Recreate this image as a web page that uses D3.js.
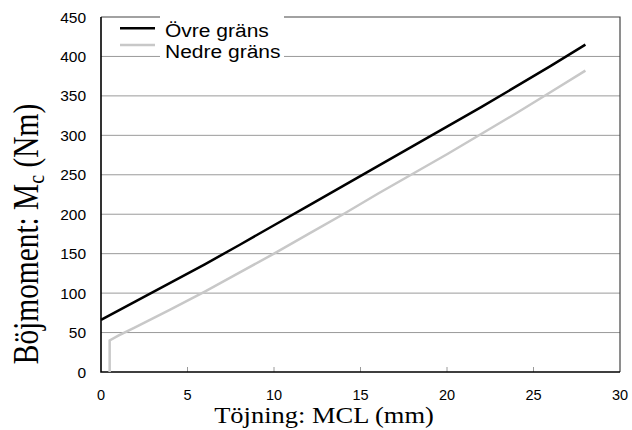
<!DOCTYPE html>
<html>
<head>
<meta charset="utf-8">
<script src="https://cdn.jsdelivr.net/npm/d3@7"></script>
<style>
  html, body { margin: 0; padding: 0; background: #fff; }
  svg { display: block; }
</style>
</head>
<body>
<svg id="chart" width="632" height="430"></svg>
<script>
// ---- data ----
const upperX = [0, 2, 4, 6, 8, 10, 12, 14, 16, 18, 20, 22, 24, 26, 28];
const upperY = [66, 89.5, 113, 136.5, 161, 186, 211, 236, 261, 286, 311, 336, 362, 388, 415];
const lowerX = [0.5, 0.5, 1, 2, 4, 6, 8, 10, 12, 14, 16, 18, 20, 22, 24, 26, 28];
const lowerY = [0, 40, 46, 57, 79, 102, 126, 150, 175, 200, 226, 251, 276, 302, 328, 355, 382];
const seriesNames = ["Övre gräns", "Nedre gräns"];
const xTicks = [0, 5, 10, 15, 20, 25, 30];
const yTicks = [0, 50, 100, 150, 200, 250, 300, 350, 400, 450];
const xTitle = "Töjning: MCL (mm)";
const yTitleMain = "Böjmoment: M";
const yTitleSub = "c";
const yTitleEnd = " (Nm)";

// ---- layout ----
const svg = d3.select("#chart");
const x = d3.scaleLinear().domain([0, 30]).range([101, 620]);
const y = d3.scaleLinear().domain([0, 450]).range([372, 17]);
const sans = "'Liberation Sans', Arial, Helvetica, sans-serif";
const serif = "'Liberation Serif', 'Times New Roman', serif";

// gridlines
svg.append("g").selectAll("line")
  .data(yTicks.filter(d => d > 0 && d < 450))
  .join("line")
  .attr("x1", x(0)).attr("x2", x(30))
  .attr("y1", d => y(d)).attr("y2", d => y(d))
  .attr("stroke", "#9a9a9a").attr("stroke-width", 1);

// inner x ticks
svg.append("g").selectAll("line")
  .data(xTicks.filter(d => d > 0 && d < 30))
  .join("line")
  .attr("x1", d => x(d)).attr("x2", d => x(d))
  .attr("y1", y(0)).attr("y2", y(0) - 5)
  .attr("stroke", "#9a9a9a").attr("stroke-width", 1);

// frame (top & right)
svg.append("path")
  .attr("d", `M${x(0)},${y(450)}H${x(30)}V${y(0)}`)
  .attr("fill", "none").attr("stroke", "#444").attr("stroke-width", 1.2);

// axes lines (left & bottom)
svg.append("path")
  .attr("d", `M${x(0)},${y(450)}V${y(0)}H${x(30)}`)
  .attr("fill", "none").attr("stroke", "#000").attr("stroke-width", 1.6);

// series lines
const line = d3.line().x(d => x(d[0])).y(d => y(d[1]));
const upper = upperX.map((v, i) => [v, upperY[i]]);
const lower = lowerX.map((v, i) => [v, lowerY[i]]);
svg.append("path").datum(lower).attr("d", line)
  .attr("fill", "none").attr("stroke", "#c8c8c8").attr("stroke-width", 2.5);
svg.append("path").datum(upper).attr("d", line)
  .attr("fill", "none").attr("stroke", "#000").attr("stroke-width", 2.5);

// tick labels
svg.append("g").selectAll("text")
  .data(yTicks).join("text")
  .attr("transform", d => `translate(86,${y(d) + 5.5}) scale(1,0.92)`)
  .attr("text-anchor", "end")
  .attr("font-family", sans).attr("font-size", 15.5).attr("fill", "#000")
  .text(d => d);
svg.append("g").selectAll("text")
  .data(xTicks).join("text")
  .attr("transform", d => `translate(${x(d)},400)`)
  .attr("text-anchor", "middle")
  .attr("font-family", sans).attr("font-size", 14.5).attr("fill", "#000")
  .text(d => d);

// axis titles
svg.append("text")
  .attr("transform", "translate(324,423) scale(1,0.9)")
  .attr("text-anchor", "middle")
  .attr("font-family", serif).attr("font-size", 26.5).attr("fill", "#000")
  .text(xTitle);

const yt = svg.append("text")
  .attr("transform", "translate(38,234) scale(1,0.84) rotate(-90)")
  .attr("text-anchor", "middle")
  .attr("font-family", serif).attr("font-size", 35).attr("fill", "#000");
yt.append("tspan").text(yTitleMain);
yt.append("tspan").attr("font-size", 24).attr("dy", 6).text(yTitleSub);
yt.append("tspan").attr("dy", -6).text(yTitleEnd);

// legend
svg.append("rect").attr("x", 160).attr("y", 13).attr("width", 124).attr("height", 50)
  .attr("fill", "#fff");
const legendColors = ["#000", "#c8c8c8"];
const sampleY = [28.3, 45];
const labelY = [36.7, 58.3];
seriesNames.forEach((name, i) => {
  svg.append("line")
    .attr("x1", 120).attr("x2", 155)
    .attr("y1", sampleY[i]).attr("y2", sampleY[i])
    .attr("stroke", legendColors[i]).attr("stroke-width", 2.5);
  svg.append("text")
    .attr("transform", `translate(165,${labelY[i]}) scale(1,0.86)`)
    .attr("font-family", sans).attr("font-size", 21).attr("fill", "#000")
    .text(name);
});
</script>
</body>
</html>
